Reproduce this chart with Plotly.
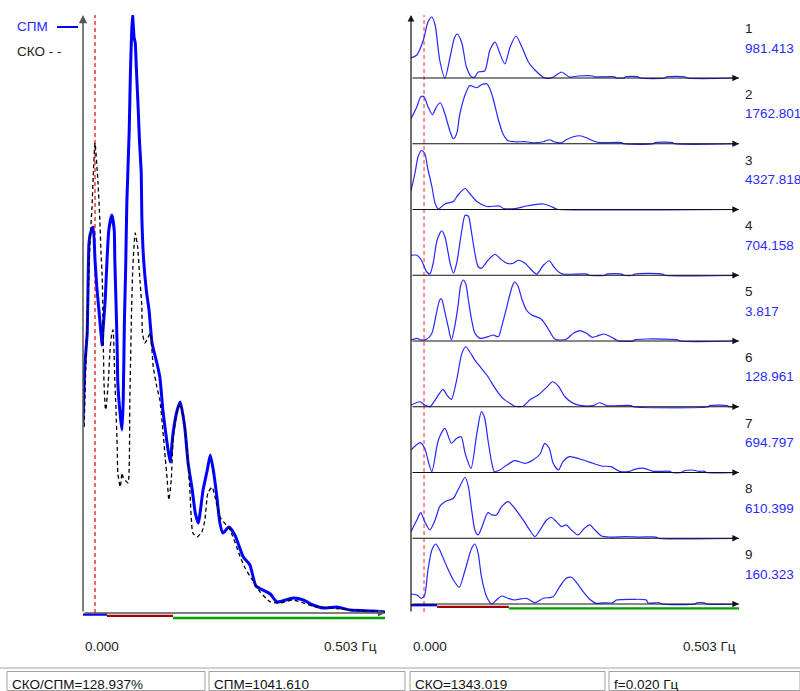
import plotly.graph_objects as go

W, H = 800, 691

# ---------------- data ----------------
f_max = 0.503          # Hz, right end of the frequency axis
f_cursor = 0.020       # Hz, red dashed cursor
band_edges = [0.0, 0.04, 0.15, 0.503]          # VLF / LF / HF bands
band_colors = ["#0000ff", "#a00000", "#00a000"]

# left panel: СПМ (thick blue) and СКО (dashed black), relative amplitude
spm_f = [0.000, 0.003, 0.007, 0.008, 0.010, 0.013, 0.017, 0.020, 0.023, 0.027,
         0.032, 0.033, 0.037, 0.040, 0.043, 0.048, 0.052, 0.053, 0.055, 0.057,
         0.058, 0.062, 0.065, 0.067, 0.069, 0.071, 0.073, 0.077, 0.079, 0.081,
         0.0825, 0.085, 0.087, 0.089, 0.092, 0.094, 0.097, 0.098, 0.101, 0.106,
         0.110, 0.115, 0.123, 0.128, 0.133, 0.140, 0.145, 0.150, 0.157, 0.162,
         0.167, 0.170, 0.175, 0.182, 0.187, 0.192, 0.200, 0.207, 0.212, 0.217,
         0.223, 0.228, 0.233, 0.243, 0.253, 0.267, 0.278, 0.288, 0.303, 0.312,
         0.323, 0.350, 0.367, 0.383, 0.400, 0.423, 0.445, 0.483, 0.503]
spm_v = [190, 246, 280, 310, 370, 381, 386, 353, 326, 300,
         268, 280, 313, 353, 383, 398, 383, 353, 310, 263,
         230, 198, 183, 213, 293, 343, 410, 483, 541, 580,
         598, 576, 570, 543, 503, 473, 440, 396, 353, 320,
         303, 270, 250, 236, 203, 170, 151, 180, 203, 211,
         196, 183, 150, 123, 100, 90, 123, 143, 158, 143,
         116, 90, 80, 86, 78, 56, 48, 27, 22, 19,
         11, 15, 13, 8, 5, 6, 3, 2, 1]

sko_f = [0.002, 0.006, 0.008, 0.010, 0.012, 0.015, 0.017, 0.020, 0.025, 0.028,
         0.030, 0.032, 0.033, 0.034, 0.035, 0.037, 0.038, 0.042, 0.045, 0.048,
         0.050, 0.053, 0.055, 0.057, 0.058, 0.062, 0.065, 0.067, 0.070, 0.075,
         0.078, 0.081, 0.083, 0.087, 0.091, 0.094, 0.098, 0.099, 0.103, 0.108,
         0.112, 0.117, 0.123, 0.128, 0.133, 0.137, 0.140, 0.143, 0.147, 0.150,
         0.157, 0.162, 0.167, 0.172, 0.178, 0.183, 0.190, 0.198, 0.203, 0.208,
         0.215, 0.220, 0.228, 0.245, 0.262, 0.270, 0.282, 0.295, 0.312, 0.328,
         0.350, 0.383, 0.428, 0.503]
sko_v = [186, 276, 310, 343, 376, 406, 436, 470, 430, 393,
         360, 336, 306, 263, 230, 206, 203, 230, 263, 280,
         283, 233, 203, 166, 140, 126, 140, 135, 133, 130,
         213, 306, 346, 380, 366, 340, 306, 280, 270, 275,
         280, 246, 226, 213, 183, 155, 135, 113, 133, 173,
         203, 209, 198, 173, 123, 80, 76, 81, 93, 120,
         126, 116, 96, 83, 56, 45, 33, 21, 11, 10,
         13, 7, 4, 1]

# right panel: nine segments, each normalised to its own maximum
seg_ids = ["1", "2", "3", "4", "5", "6", "7", "8", "9"]
seg_totals = ["981.413", "1762.801", "4327.818", "704.158", "3.817",
              "128.961", "694.797", "610.399", "160.323"]

seg1_f = [0.0, 0.009, 0.019, 0.026, 0.032, 0.037, 0.044, 0.052, 0.060, 0.067,
          0.071, 0.078, 0.085, 0.093, 0.098, 0.103, 0.113, 0.121, 0.129, 0.136,
          0.144, 0.152, 0.161, 0.170, 0.180, 0.190, 0.205, 0.215, 0.223, 0.231,
          0.236, 0.243, 0.256, 0.279, 0.281, 0.312, 0.315, 0.327, 0.329, 0.348,
          0.351, 0.390, 0.392, 0.420, 0.423, 0.503]
seg1_v = [20, 23, 38, 56, 61, 53, 18, 0, 21, 41,
          44, 35, 11, 1, 1.3, 6, 7, 28, 36, 25,
          14, 31, 42, 31, 16, 8, 0, 0, 3, 6,
          4, 1, 2, 2, 1.2, 1.2, 0, 0, 1.2, 1.2,
          0, 0, 1.2, 1.2, 0, 0]

seg2_f = [0.0, 0.009, 0.015, 0.020, 0.026, 0.033, 0.039, 0.045, 0.052, 0.060,
          0.065, 0.070, 0.075, 0.083, 0.090, 0.101, 0.108, 0.116, 0.121, 0.126,
          0.134, 0.141, 0.149, 0.159, 0.177, 0.187, 0.203, 0.213, 0.219, 0.231,
          0.238, 0.249, 0.259, 0.269, 0.279, 0.289, 0.323, 0.326, 0.372, 0.374,
          0.401, 0.404, 0.503]
seg2_v = [25, 37, 47, 47, 37, 29, 37, 41, 30, 12,
          5, 10, 30, 49, 58, 56, 59, 60, 55, 45,
          24, 10, 3, 2, 2, 1, 2, 4, 2, 1,
          4, 7, 8, 6, 3, 1.2, 1.2, 0, 0, 1.2,
          1.2, 0, 0]

seg3_f = [0.0, 0.006, 0.011, 0.016, 0.021, 0.026, 0.032, 0.037, 0.042, 0.052,
          0.065, 0.072, 0.083, 0.090, 0.101, 0.116, 0.136, 0.141, 0.162, 0.177,
          0.203, 0.213, 0.223, 0.226, 0.503]
seg3_v = [19, 36, 53, 59, 56, 40, 23, 6, 0.5, 5.5,
          8, 14.5, 21, 16, 8, 3, 3.5, 1.2, 1.2, 3.5,
          5.5, 3.5, 0.5, 0, 0]

seg4_f = [0.0, 0.009, 0.016, 0.024, 0.029, 0.034, 0.040, 0.047, 0.052, 0.060,
          0.065, 0.070, 0.078, 0.083, 0.088, 0.093, 0.098, 0.103, 0.108, 0.118,
          0.129, 0.136, 0.147, 0.157, 0.164, 0.175, 0.185, 0.193, 0.203, 0.212,
          0.219, 0.226, 0.233, 0.270, 0.273, 0.298, 0.300, 0.323, 0.326, 0.341,
          0.343, 0.386, 0.389, 0.503]
seg4_v = [20, 20, 15, 3.5, 1.2, 12, 35, 44.5, 38.5, 12,
          2, 12, 45, 60, 59, 42, 22, 8.5, 7, 15,
          21, 17, 12, 12, 15, 12, 5, 1.2, 10, 14.5,
          8.5, 3.5, 1.2, 1.2, 0, 0, 1.2, 1.2, 0, 0,
          1.2, 1.2, 0, 0]

seg5_f = [0.0, 0.009, 0.016, 0.024, 0.032, 0.039, 0.044, 0.047, 0.049, 0.057,
          0.062, 0.067, 0.072, 0.076, 0.080, 0.084, 0.088, 0.093, 0.098, 0.106,
          0.118, 0.126, 0.134, 0.139, 0.147, 0.151, 0.156, 0.159, 0.164, 0.170,
          0.177, 0.185, 0.198, 0.205, 0.213, 0.221, 0.238, 0.249, 0.259, 0.269,
          0.278, 0.287, 0.296, 0.304, 0.315, 0.318, 0.341, 0.343, 0.361, 0.409,
          0.412, 0.503]
seg5_v = [1, 2.7, 1, 1.7, 7.7, 27.7, 41, 42, 37.7, 14.3,
          1, 14.3, 34.3, 55, 61, 57, 41, 21, 7.7, 2.7,
          4.3, 6, 4.3, 14.3, 34.3, 45, 56, 59, 55, 42,
          31, 26, 22.7, 17.7, 9.3, 1.7, 1.7, 7.7, 10.3, 7.7,
          3.7, 5.3, 7, 5, 1, 0, 0, 1.2, 2, 1.2,
          0, 0]

seg6_f = [0.0, 0.014, 0.021, 0.029, 0.037, 0.049, 0.055, 0.062, 0.070, 0.078,
          0.084, 0.090, 0.098, 0.108, 0.118, 0.129, 0.141, 0.154, 0.159, 0.172,
          0.182, 0.195, 0.208, 0.217, 0.226, 0.236, 0.249, 0.261, 0.279, 0.289,
          0.300, 0.338, 0.341, 0.456, 0.458, 0.485, 0.488, 0.503]
seg6_v = [1.7, 5, 1.7, 0, 6.7, 17.4, 11.7, 7.4, 26.7, 53.4,
          60, 55, 46.7, 38.4, 30, 18.4, 8.4, 2.4, 0.5, 0.5,
          6.7, 11.7, 19.4, 25, 20.7, 10, 3.4, 1.2, 1.2, 4,
          1.2, 1.2, 0, 0, 1.2, 1.2, 0, 0]

seg7_f = [0.0, 0.014, 0.021, 0.026, 0.032, 0.042, 0.052, 0.062, 0.070, 0.077,
          0.083, 0.092, 0.101, 0.108, 0.113, 0.118, 0.124, 0.128, 0.136, 0.147,
          0.159, 0.175, 0.187, 0.198, 0.205, 0.212, 0.218, 0.226, 0.233, 0.243,
          0.264, 0.279, 0.292, 0.307, 0.320, 0.335, 0.343, 0.358, 0.371, 0.397,
          0.400, 0.415, 0.417, 0.430, 0.442, 0.450, 0.453, 0.503]
seg7_v = [22.5, 29.8, 24.2, 12.5, 0.8, 32.5, 44.2, 29.2, 34.2, 35.8,
          19.2, 4.2, 39.2, 60.8, 54.2, 32.5, 9.2, 0.8, 2.5, 7.5,
          11.8, 9.2, 12.5, 18.5, 29.2, 24.2, 9.2, 2.5, 10.8, 15.8,
          12.5, 9.2, 6.5, 5.8, 1.2, 1.2, 3.2, 4.2, 1.2, 1.2,
          0, 0, 1.2, 2.5, 1.2, 1.2, 0, 0]

seg8_f = [0.0, 0.009, 0.015, 0.021, 0.029, 0.037, 0.044, 0.052, 0.065, 0.072,
          0.083, 0.088, 0.093, 0.098, 0.103, 0.108, 0.118, 0.124, 0.131, 0.139,
          0.149, 0.159, 0.172, 0.182, 0.190, 0.198, 0.208, 0.215, 0.223, 0.231,
          0.238, 0.246, 0.256, 0.266, 0.274, 0.282, 0.292, 0.305, 0.330, 0.351,
          0.376, 0.379, 0.503]
seg8_v = [6.6, 18.3, 25.6, 16.6, 8.3, 18.3, 31.6, 36.6, 40, 48.3,
          61, 51.6, 28.3, 8.3, 3.3, 10, 25.6, 23.3, 23.3, 31.6,
          36.6, 30, 18.3, 8.3, 1.6, 8.3, 18.3, 21, 16.6, 11.6,
          13.3, 8.3, 3.3, 10, 13.3, 8.3, 2.3, 1.2, 1.6, 1.2,
          1.2, 0, 0]

seg9_f = [0.0, 0.009, 0.016, 0.021, 0.026, 0.032, 0.038, 0.044, 0.055, 0.065,
          0.074, 0.083, 0.093, 0.098, 0.103, 0.108, 0.116, 0.124, 0.131, 0.139,
          0.149, 0.159, 0.177, 0.190, 0.203, 0.218, 0.228, 0.238, 0.246, 0.254,
          0.264, 0.274, 0.284, 0.294, 0.309, 0.315, 0.340, 0.361, 0.363, 0.381,
          0.384, 0.436, 0.438, 0.450, 0.453, 0.503]
seg9_v = [10, 9, 5.7, 9, 34, 54, 60, 54, 37.3, 24,
          16.7, 34, 55.7, 60, 50.7, 27.3, 7.3, 0, 4, 8,
          5.7, 4, 5.7, 1.3, 5.7, 7.3, 17.3, 25.7, 26.7, 21.3,
          12.3, 4.7, 0.7, 1.2, 1.2, 4, 4.7, 4, 1.2, 1.2,
          0, 0, 1.2, 1.2, 0, 0]

seg_f = [seg1_f, seg2_f, seg3_f, seg4_f, seg5_f, seg6_f, seg7_f, seg8_f, seg9_f]
seg_v = [seg1_v, seg2_v, seg3_v, seg4_v, seg5_v, seg6_v, seg7_v, seg8_v, seg9_v]

axis_left_label = "0.000"
axis_right_label = "0.503 Гц"
status_texts = ["СКО/СПМ=128.937%", "СПМ=1041.610", "СКО=1343.019", "f=0.020 Гц"]

assert len(spm_f) == len(spm_v) and len(sko_f) == len(sko_v)
for a, b in zip(seg_f, seg_v):
    assert len(a) == len(b), (len(a), len(b))

# ---------------- layout helpers (pixel -> paper) ----------------
def px(x):
    return x / W

def py(y):
    return 1 - y / H

FONT = "Arial, Liberation Sans, sans-serif"
FS = 13.5

fig = go.Figure()

# left panel traces
fig.add_trace(go.Scatter(x=spm_f, y=spm_v, mode="lines", xaxis="x", yaxis="y",
                         line=dict(color="#0000ff", width=3, shape="spline", smoothing=0.5),
                         hoverinfo="skip"))
fig.add_trace(go.Scatter(x=sko_f, y=sko_v, mode="lines", xaxis="x", yaxis="y",
                         line=dict(color="#000000", width=1.3, dash="4px,3px",
                                   shape="spline", smoothing=0.5),
                         hoverinfo="skip"))

layout = dict(
    width=W, height=H, margin=dict(l=0, r=0, t=0, b=0),
    paper_bgcolor="white", plot_bgcolor="rgba(0,0,0,0)", showlegend=False,
    xaxis=dict(domain=[px(83), px(385)], range=[0, f_max], visible=False),
    yaxis=dict(domain=[py(617), py(15)], range=[-4, 598], visible=False),
)

baselines = [78 + 65.75 * k for k in range(9)]
for k in range(9):
    n = k + 2
    b = baselines[k]
    layout["xaxis%d" % n] = dict(domain=[px(411), px(739)], range=[0, f_max],
                                 visible=False, anchor="y%d" % n)
    layout["yaxis%d" % n] = dict(domain=[py(b + 2), py(b - 64)], range=[-2, 64],
                                 visible=False, anchor="x%d" % n)
    fig.add_trace(go.Scatter(x=seg_f[k], y=seg_v[k], mode="lines",
                             xaxis="x%d" % n, yaxis="y%d" % n,
                             line=dict(color="#2626ff", width=1.2,
                                       shape="spline", smoothing=0.7),
                             hoverinfo="skip"))

fig.update_layout(**layout)

shapes = []
ann = []

# red cursor lines
shapes.append(dict(type="line", xref="x", yref="paper", x0=f_cursor, x1=f_cursor,
                   y0=py(613), y1=py(15), layer="below",
                   line=dict(color="#ff0000", width=1.2, dash="4px,3px")))
shapes.append(dict(type="line", xref="x2", yref="paper", x0=f_cursor, x1=f_cursor,
                   y0=py(612), y1=py(15), layer="below",
                   line=dict(color="#ff4d4d", width=1.2, dash="4px,3px")))

# frequency-band bars under the axes
left_band_y = [614.6, 615.8, 618.0]
right_band_y = [605.2, 606.9, 608.4]
for i in range(3):
    shapes.append(dict(type="line", xref="x", yref="paper",
                       x0=band_edges[i], x1=band_edges[i + 1],
                       y0=py(left_band_y[i]), y1=py(left_band_y[i]),
                       line=dict(color=band_colors[i], width=2.3)))
    shapes.append(dict(type="line", xref="x10", yref="paper",
                       x0=band_edges[i], x1=band_edges[i + 1],
                       y0=py(right_band_y[i]), y1=py(right_band_y[i]),
                       line=dict(color=band_colors[i], width=2.3)))

def arrow(x, y, xref, yref, ax, ay, color, width):
    ann.append(dict(x=x, y=y, xref=xref, yref=yref, ax=ax, ay=ay, text="",
                    showarrow=True, arrowhead=2, arrowsize=1.1, arrowwidth=width,
                    arrowcolor=color, standoff=0, startstandoff=0))

# left axes
arrow(0, 598, "x", "y", 0, 598, "#555555", 1.5)
arrow(f_max, 0, "x", "y", -302, 0, "#555555", 1.3)
# right axes
arrow(px(411), py(15), "paper", "paper", 0, 598, "#111111", 1.2)
for k in range(9):
    n = k + 2
    arrow(f_max, 0, "x%d" % n, "y%d" % n, -328, 0, "#111111", 1.2)

# segment labels
for k in range(9):
    b = baselines[k]
    ann.append(dict(x=px(743), y=py(b - 49.5), xref="paper", yref="paper",
                    text=seg_ids[k], showarrow=False, xanchor="left", yanchor="middle",
                    font=dict(family=FONT, size=FS, color="#222222")))
    ann.append(dict(x=px(743), y=py(b - 30), xref="paper", yref="paper",
                    text=seg_totals[k], showarrow=False, xanchor="left", yanchor="middle",
                    font=dict(family=FONT, size=FS, color="#2a2aff")))

# frequency labels
ann.append(dict(x=0, y=py(646), xref="x", yref="paper", text=axis_left_label,
                showarrow=False, xanchor="left", yanchor="middle",
                font=dict(family=FONT, size=FS, color="#222222")))
ann.append(dict(x=f_max, y=py(646), xref="x", yref="paper", text=axis_right_label,
                showarrow=False, xanchor="right", yanchor="middle", xshift=-6,
                font=dict(family=FONT, size=FS, color="#222222")))
ann.append(dict(x=0, y=py(646), xref="x10", yref="paper", text=axis_left_label,
                showarrow=False, xanchor="left", yanchor="middle",
                font=dict(family=FONT, size=FS, color="#222222")))
ann.append(dict(x=f_max, y=py(646), xref="x10", yref="paper", text=axis_right_label,
                showarrow=False, xanchor="right", yanchor="middle", xshift=-1,
                font=dict(family=FONT, size=FS, color="#222222")))

# legend
ann.append(dict(x=px(15), y=py(27), xref="paper", yref="paper", text="СПМ",
                showarrow=False, xanchor="left", yanchor="middle",
                font=dict(family=FONT, size=FS, color="#2a2aff")))
shapes.append(dict(type="line", xref="paper", yref="paper", x0=px(57), x1=px(78),
                   y0=py(27), y1=py(27), line=dict(color="#0000ff", width=2)))
ann.append(dict(x=px(15), y=py(51), xref="paper", yref="paper", text="СКО - -",
                showarrow=False, xanchor="left", yanchor="middle",
                font=dict(family=FONT, size=FS, color="#222222")))

# status bar
shapes.append(dict(type="line", xref="paper", yref="paper", x0=0, x1=1,
                   y0=py(668), y1=py(668), line=dict(color="#a0a0a0", width=1)))
boxes = [(7, 205), (209, 405), (410, 605), (609, 800)]
for (x0, x1), t in zip(boxes, status_texts):
    shapes.append(dict(type="rect", xref="paper", yref="paper", x0=px(x0), x1=px(x1),
                       y0=py(690.5), y1=py(671.5), line=dict(color="#a0a0a0", width=1)))
    ann.append(dict(x=px(x0 + 3), y=py(684), xref="paper", yref="paper", text=t,
                    showarrow=False, xanchor="left", yanchor="middle",
                    font=dict(family=FONT, size=FS, color="#111111")))

fig.update_layout(shapes=shapes, annotations=ann)
# place the plot at the page's top-left corner (no default body margin)
fig.write_html("out.html", config={"displayModeBar": False},
               post_script="document.body.style.margin='0';document.body.style.overflow='hidden';")
